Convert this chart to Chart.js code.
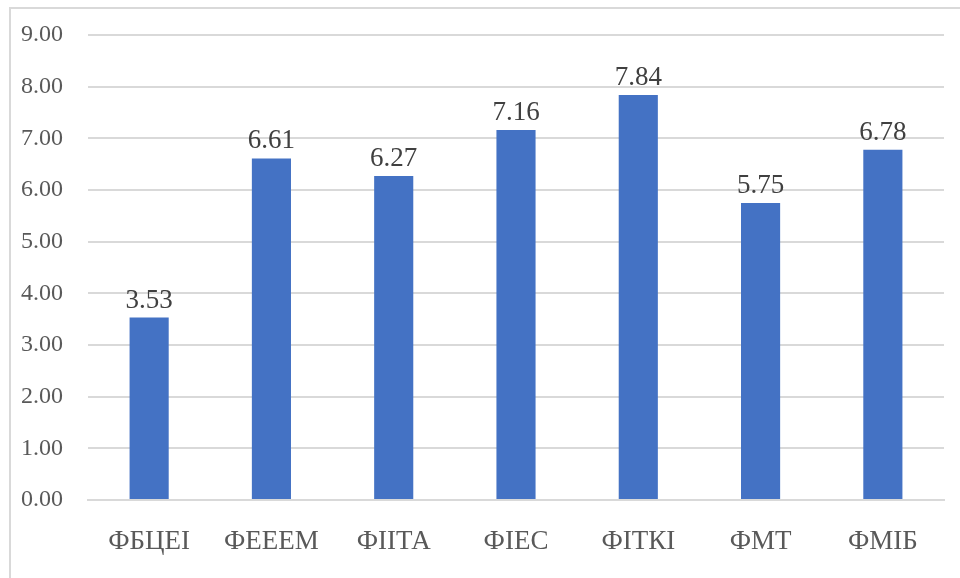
<!DOCTYPE html>
<html>
<head>
<meta charset="utf-8">
<script src="https://cdn.jsdelivr.net/npm/chart.js@4/dist/chart.umd.min.js"></script>
<style>
  html, body { margin: 0; padding: 0; background: #ffffff; }
  #wrap { width: 960px; height: 578px; position: relative; }
</style>
</head>
<body>
<div id="wrap"><canvas id="c" width="960" height="578"></canvas></div>
<script>
const categories = ["ФБЦЕІ", "ФЕЕЕМ", "ФІІТА", "ФІЕС", "ФІТКІ", "ФМТ", "ФМІБ"];
const values = [3.53, 6.61, 6.27, 7.16, 7.84, 5.75, 6.78];
const yMin = 0;
const yMax = 9;
const yStep = 1;

const FONT = '"Liberation Serif", "Times New Roman", serif';

const frame = {
  id: 'frame',
  beforeDraw(chart) {
    const ctx = chart.ctx;
    ctx.save();
    ctx.fillStyle = '#ffffff';
    ctx.fillRect(0, 0, chart.width, chart.height);
    ctx.strokeStyle = '#d9d9d9';
    ctx.lineWidth = 2;
    ctx.strokeRect(10, 8, chart.width + 20, chart.height + 20);
    ctx.restore();
  }
};

const barLabels = {
  id: 'barLabels',
  afterDatasetsDraw(chart) {
    const ctx = chart.ctx;
    const meta = chart.getDatasetMeta(0);
    ctx.save();
    ctx.font = '27px ' + FONT;
    ctx.fillStyle = '#404040';
    ctx.textAlign = 'center';
    ctx.textBaseline = 'alphabetic';
    meta.data.forEach((bar, i) => {
      const v = chart.data.datasets[0].data[i];
      ctx.fillText(v.toFixed(2), bar.x, bar.y - 10);
    });
    ctx.restore();
  }
};

new Chart(document.getElementById('c'), {
  type: 'bar',
  data: {
    labels: categories,
    datasets: [{
      data: values,
      backgroundColor: '#4472C4',
      borderWidth: 0,
      categoryPercentage: 1,
      barPercentage: 0.32
    }]
  },
  options: {
    responsive: false,
    animation: false,
    devicePixelRatio: 1,
    layout: { padding: { left: 0, right: 16, top: 35, bottom: 0 } },
    plugins: {
      legend: { display: false },
      tooltip: { enabled: false }
    },
    scales: {
      x: {
        grid: { display: false, drawTicks: false },
        border: { display: true, color: '#d9d9d9', width: 2 },
        ticks: {
          color: '#595959',
          font: { family: FONT, size: 27 },
          padding: 26,
          maxRotation: 0
        },
        afterFit(scale) { scale.height = 78; }
      },
      y: {
        min: yMin,
        max: yMax,
        grid: { color: '#d9d9d9', lineWidth: 2, drawTicks: false },
        border: { display: false },
        ticks: {
          stepSize: yStep,
          color: '#595959',
          font: { family: FONT, size: 24 },
          padding: 25,
          callback: (v) => Number(v).toFixed(2)
        },
        afterFit(scale) { scale.width = 88; scale.paddingTop = 0; scale.paddingBottom = 0; }
      }
    }
  },
  plugins: [frame, barLabels]
});
</script>
</body>
</html>
